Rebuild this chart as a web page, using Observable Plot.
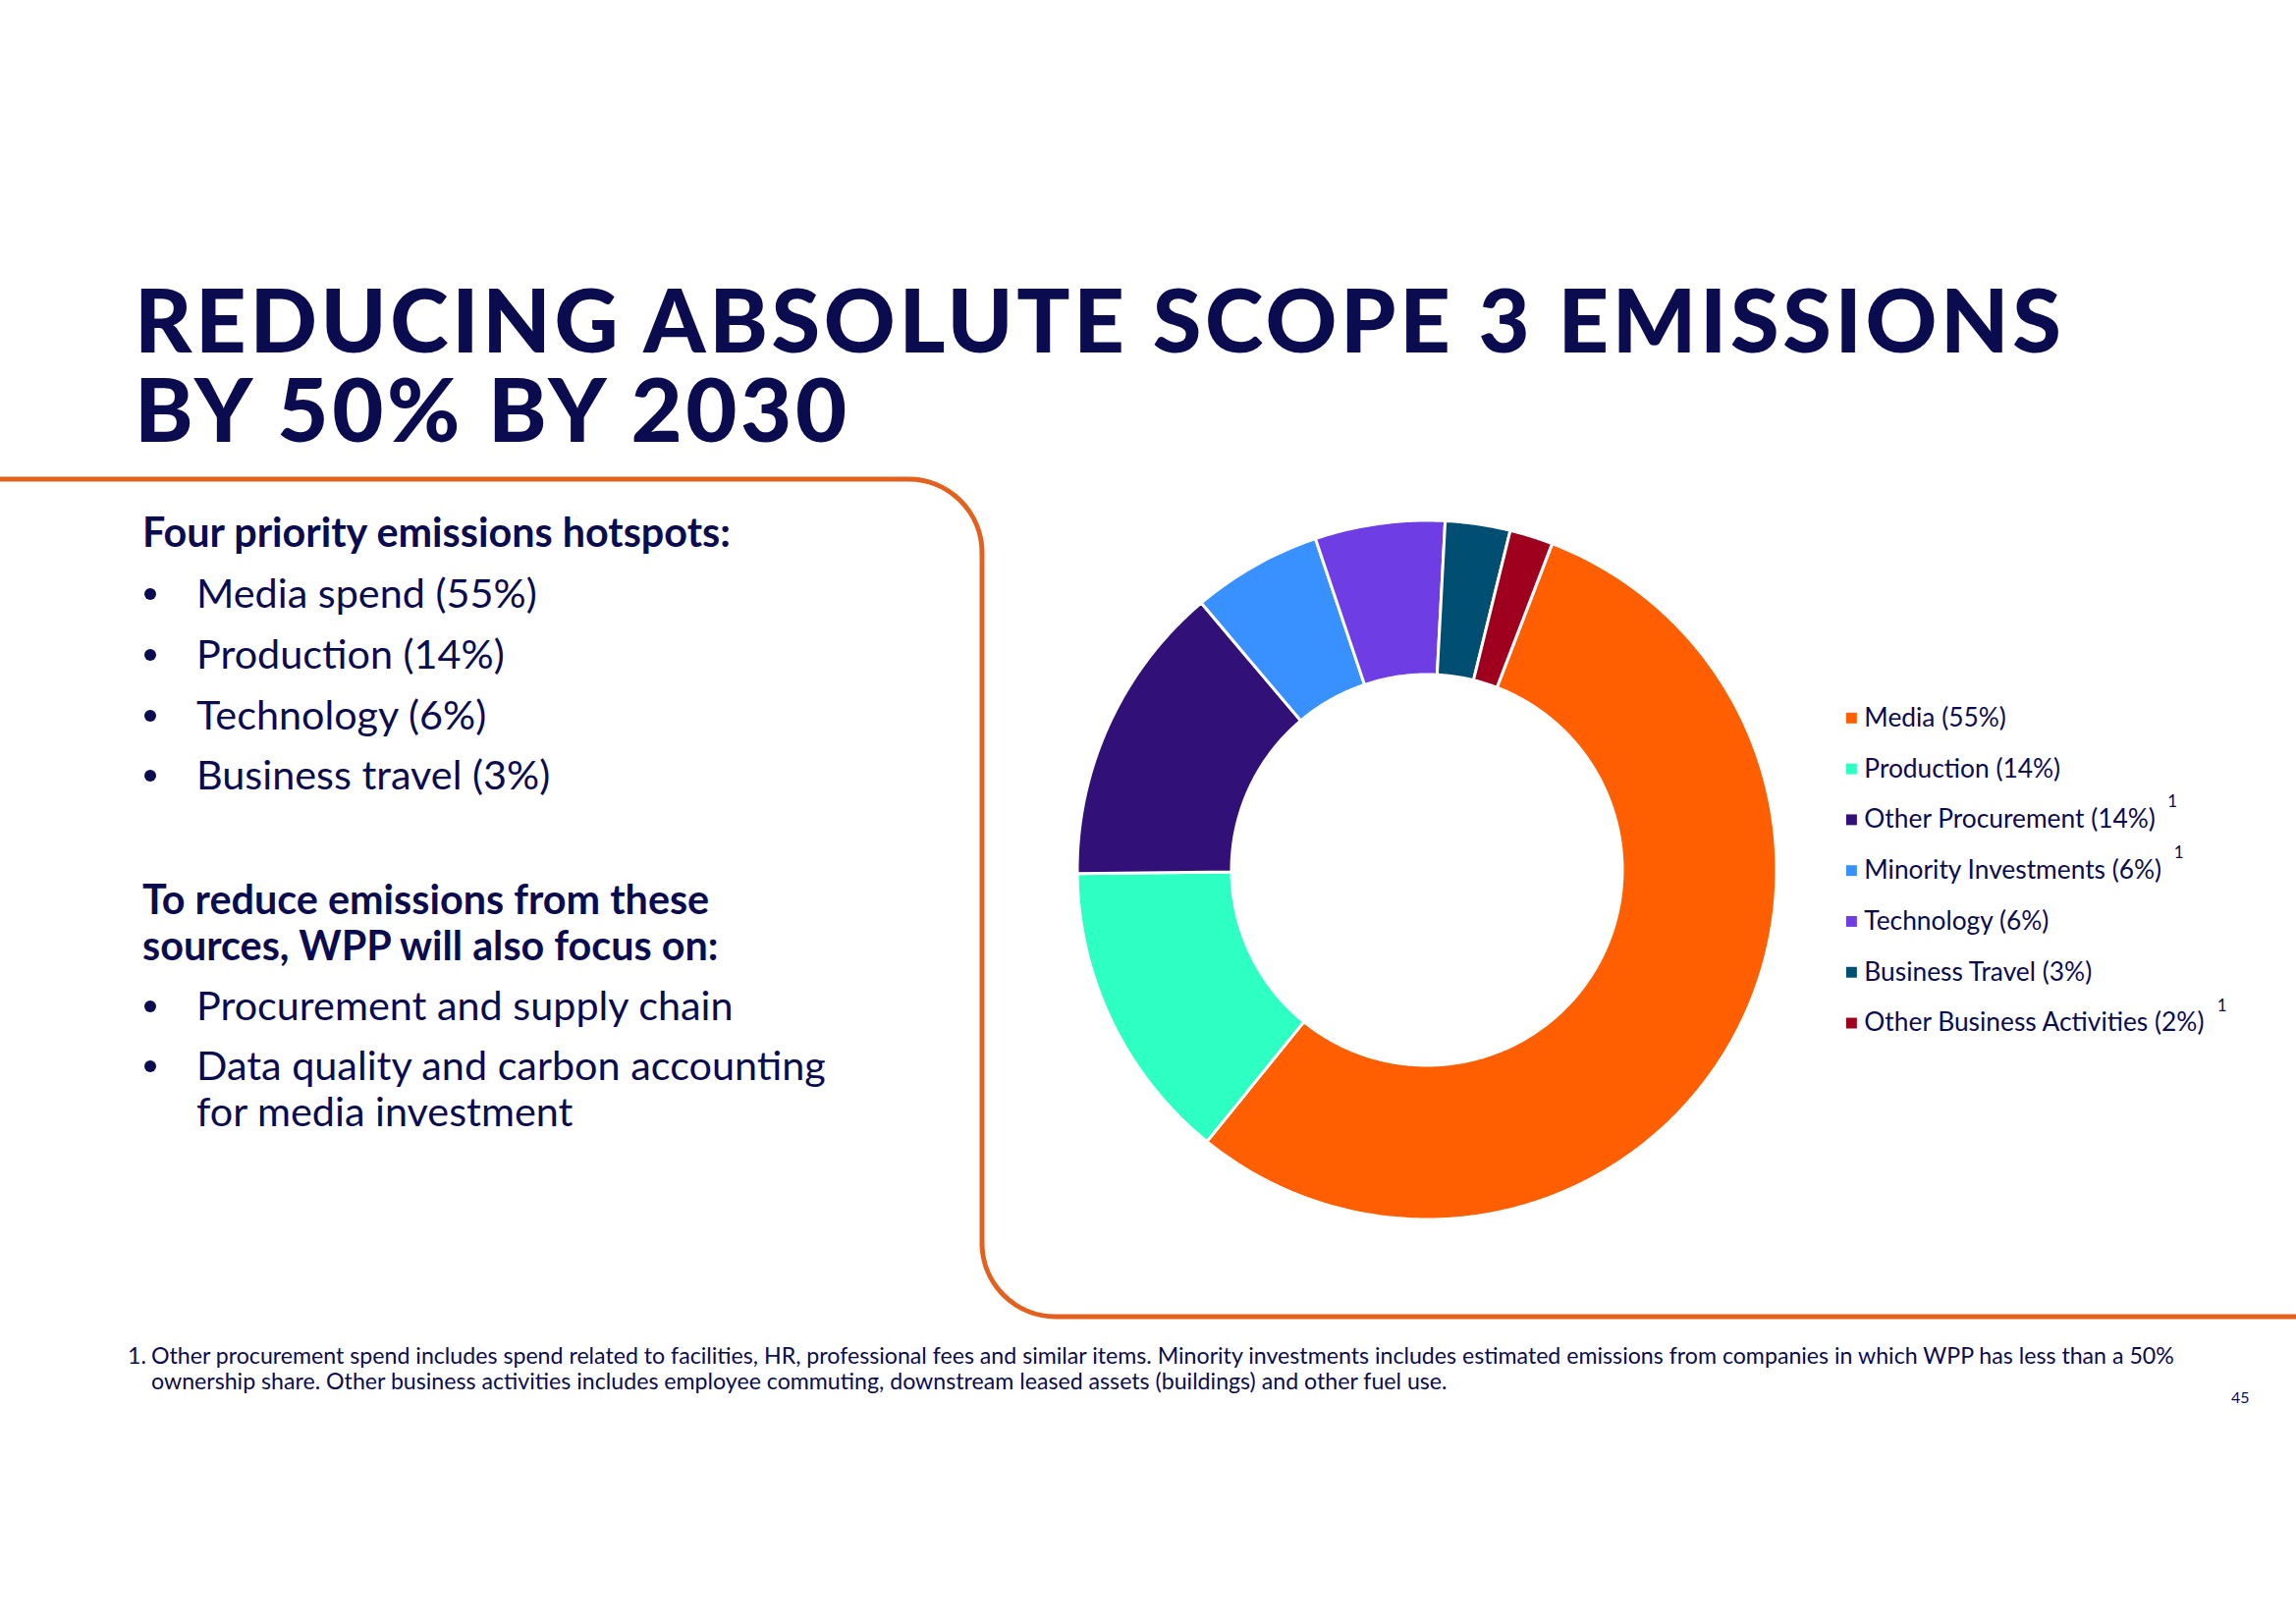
<!DOCTYPE html>
<html><head><meta charset="utf-8">
<script src="https://cdn.jsdelivr.net/npm/d3@7"></script>
<script src="https://cdn.jsdelivr.net/npm/@observablehq/plot@0.6"></script>
<style>
html,body{margin:0;padding:0;background:#fff;}
#page{position:relative;width:2338px;height:1653px;overflow:hidden;font-family:Lato,sans-serif;}
#deco{position:absolute;left:0;top:0;}
#title{position:absolute;left:137px;margin:0;font-family:Lato,sans-serif;font-weight:900;font-size:90px;line-height:91px;color:#0b0b50;white-space:pre;}
#donut{position:absolute;left:1073px;top:506px;}
#legend{position:absolute;left:1860px;top:690px;}
</style></head>
<body><div id="page"><svg id="deco" width="2338" height="1653"></svg><h1 id="title"></h1><div id="donut"></div><div id="legend"></div></div>
<script>
// ---- data ----
const categories = ["Media","Production","Other Procurement","Minority Investments","Technology","Business Travel","Other Business Activities"];
const shares = [55,14,14,6,6,3,2];
const colors = ["#ff5f00","#2effc3","#311078","#3891ff","#6e3de4","#004f72","#9e001e"];
const notes = ["","","1","1","","","1"];
const titleLines = ["REDUCING ABSOLUTE SCOPE 3 EMISSIONS","BY 50% BY 2030"];
const hotspotHeader = "Four priority emissions hotspots:";
const hotspots = ["Media spend (55%)","Production (14%)","Technology (6%)","Business travel (3%)"];
const focusHeader = ["To reduce emissions from these","sources, WPP will also focus on:"];
const focus = [["Procurement and supply chain"],["Data quality and carbon accounting","for media investment"]];
const footnote = ["Other procurement spend includes spend related to facilities, HR, professional fees and similar items. Minority investments includes estimated emissions from companies in which WPP has less than a 50%","ownership share. Other business activities includes employee commuting, downstream leased assets (buildings) and other fuel use."];
const pageNumber = "45";

const NAVY = "#0b0b50";
const FONT = "Lato, sans-serif";
const ctx = document.createElement("canvas").getContext("2d");
function measure(s,size,weight){ ctx.font = `${weight||400} ${size}px Lato`; return ctx.measureText(s); }

// ---- title (HTML, one text node, two lines) ----
{
  const TFS = 90, LH = 91;
  const m = measure(titleLines[0],TFS,900);
  const ls = (1965-m.width)/(titleLines[0].length-1);
  const asc = m.fontBoundingBoxAscent, desc = m.fontBoundingBoxDescent;
  const baselineOffset = (LH-(asc+desc))/2 + asc;
  const el = document.getElementById("title");
  el.textContent = titleLines.join("\n");
  el.style.letterSpacing = ls+"px";
  el.style.top = (359-baselineOffset)+"px";
}

// ---- page text & frame ----
const svg = d3.select("#deco").attr("font-family", FONT);
svg.append("path")
  .attr("d","M0,488 H925 A75,75 0 0 1 1000,563 V1266 A75,75 0 0 0 1075,1341 H2345")
  .attr("fill","none").attr("stroke","#e4601f").attr("stroke-width",5);

function block(x,ys,lines,size,weight){
  const t = svg.append("text").attr("font-size",size).attr("font-weight",weight||400).attr("fill",NAVY);
  lines.forEach((s,i)=>t.append("tspan").attr("x",x).attr("y",ys[i]).text(s));
  return t;
}
const hfs = 35*601/measure(hotspotHeader,35,700).width;
const bfs = 37*642/measure(focus[1][0],37,400).width;

block(145,[557],[hotspotHeader],hfs,700);
const hotY = [619,681,743,804];
hotspots.forEach((s,i)=>{
  svg.append("circle").attr("cx",153).attr("cy",hotY[i]-14).attr("r",6).attr("fill",NAVY);
  block(200,[hotY[i]],[s],bfs,400);
});
block(145,[931,978],focusHeader,hfs,700);
const focusY = [[1039],[1100,1147]];
focus.forEach((lines,i)=>{
  svg.append("circle").attr("cx",153).attr("cy",focusY[i][0]-14).attr("r",6).attr("fill",NAVY);
  block(200,focusY[i],lines,bfs,400);
});

const ffs = 21*2064/measure(footnote[0],21,400).width;
block(154,[1389,1415],footnote,ffs,400);
block(130,[1389],["1."],ffs,400);
block(2272,[1429],[pageNumber],16,400);

// ---- donut (Plot) ----
const rows = categories.map((name,i)=>({name, share: shares[i], note: notes[i], label: `${name} (${shares[i]}%)`}));
const start = 21*Math.PI/180;
const arcs = d3.pie().sort(null).value(d=>d.share).startAngle(start).endAngle(start+2*Math.PI)(rows);
const ringPts = arcs.flatMap(a=>{
  const n = Math.max(2, Math.ceil((a.endAngle-a.startAngle)/(Math.PI/360)));
  return d3.range(n+1).map(k=>{
    const t = a.startAngle+(a.endAngle-a.startAngle)*k/n;
    return {name:a.data.name, sx:Math.sin(t), cy:Math.cos(t)};
  });
});
const R_OUT = 356, R_IN = 199;
const donut = Plot.plot({
  width:760, height:760, margin:0,
  x:{domain:[-380,380], axis:null},
  y:{domain:[-380,380], axis:null},
  color:{domain:categories, range:colors},
  style:{background:"transparent"},
  marks:[
    Plot.area(ringPts,{x1:d=>R_IN*d.sx, y1:d=>R_IN*d.cy, x2:d=>R_OUT*d.sx, y2:d=>R_OUT*d.cy,
      z:"name", fill:"name", stroke:"white", strokeWidth:3, curve:"linear"})
  ]
});
document.getElementById("donut").appendChild(donut);

// ---- legend (Plot) ----
const lfs = 24*349/measure(rows[6].label,24).width;
const TX = 38;
const legend = Plot.plot({
  width:480, height:400, margin:0,
  x:{domain:[0,480], range:[0,480], axis:null},
  y:{type:"point", domain:categories, range:[40,353], padding:0, axis:null},
  color:{domain:categories, range:colors},
  style:{background:"transparent", fontFamily:"Lato"},
  marks:[
    Plot.dot(rows,{x:()=>25, y:"name", fill:"name", symbol:"square", r:6.2}),
    Plot.text(rows,{x:()=>TX, y:"name", text:"label", textAnchor:"start", fontSize:lfs, fill:NAVY}),
    Plot.text(rows.filter(d=>d.note),{x:d=>TX+measure(d.label,lfs).width+12, y:"name", text:"note", dy:-18, textAnchor:"start", fontSize:17, fill:NAVY})
  ]
});
document.getElementById("legend").appendChild(legend);
</script>
</body></html>
